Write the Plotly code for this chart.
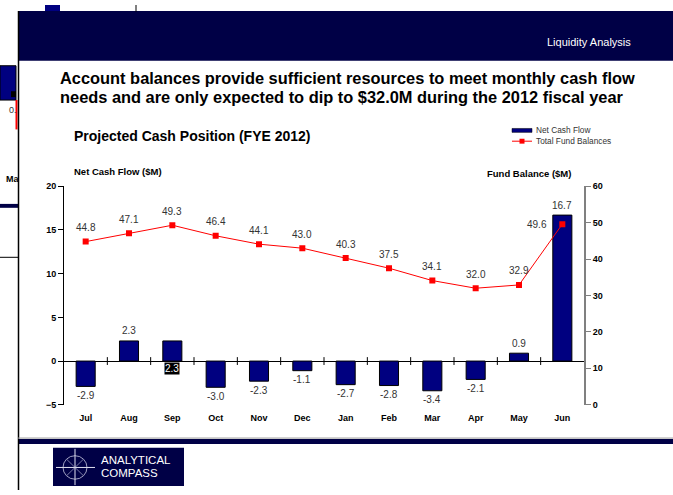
import plotly.graph_objects as go

# ---------------- data ----------------
months = ["Jul", "Aug", "Sep", "Oct", "Nov", "Dec", "Jan", "Feb", "Mar", "Apr", "May", "Jun"]
net_cash_flow = [-2.9, 2.3, 2.3, -3.0, -2.3, -1.1, -2.7, -2.8, -3.4, -2.1, 0.9, 16.7]
fund_balances = [44.8, 47.1, 49.3, 46.4, 44.1, 43.0, 40.3, 37.5, 34.1, 32.0, 32.9, 49.6]
left_ticks = [-5, 0, 5, 10, 15, 20]
right_ticks = [0, 10, 20, 30, 40, 50, 60]

W, H = 673, 495
FONT = "Liberation Sans, Arial, sans-serif"
NAVY_DARK = "#000046"
NAVY_BAR = "#000080"
LABEL_GREY = "#333333"


def px(x):
    return x / W


def py(y):
    return 1 - y / H


# plot area in page pixels
PX0, PX1 = 64, 584
PY_TOP, PY_BOT = 185, 408

fig = go.Figure()

fig.add_trace(go.Bar(
    x=months, y=net_cash_flow, name="Net Cash Flow",
    marker=dict(color=NAVY_BAR, line=dict(color="#000000", width=1)),
    width=0.44, yaxis="y", showlegend=False,
))
fig.add_trace(go.Scatter(
    x=months, y=fund_balances, name="Total Fund Balances", mode="lines+markers",
    line=dict(color="#FF0000", width=1),
    marker=dict(color="#FF0000", symbol="square", size=6),
    yaxis="y2", showlegend=False,
))

annotations = []
shapes = []


def text(x, y, s, size=9, color="#000000", bold=False, xanchor="left", yanchor="middle", **kw):
    if bold:
        s = "<b>" + s + "</b>"
    annotations.append(dict(
        x=px(x), y=py(y), xref="paper", yref="paper", text=s, showarrow=False,
        xanchor=xanchor, yanchor=yanchor,
        font=dict(family=FONT, size=size, color=color), **kw))


def rect(x0, y0, x1, y1, fill, line=None, lw=0):
    shapes.append(dict(type="rect", xref="paper", yref="paper",
                       x0=px(x0), x1=px(x1), y0=py(y1), y1=py(y0),
                       fillcolor=fill, line=dict(color=line or fill, width=lw), layer="below"))


def line(x0, y0, x1, y1, color="#000000", width=1, layer="above"):
    shapes.append(dict(type="line", xref="paper", yref="paper",
                       x0=px(x0), x1=px(x1), y0=py(y0), y1=py(y1),
                       line=dict(color=color, width=width), layer=layer))


# ---------- fragments of the slide behind ----------
rect(45, 0, 60, 7, NAVY_BAR)
line(136, 0, 136, 7)
rect(0, 62, 16, 97, NAVY_BAR, "#000000", 1)
rect(11, 88, 16, 94, "#000000")
line(16.5, 97, 16.5, 127, "#FF0000", 2)
text(7, 107, "0.", size=9, color=LABEL_GREY)
text(4, 178, "Ma", size=9, bold=True)
rect(0, 203, 18, 207, NAVY_DARK)
line(0, 257.5, 18, 257.5, "#000000", 1)

# ---------- main slide ----------
rect(18, 6, W, H, "#FFFFFF")
line(18.5, 6, 18.5, H, "#000000", 1.5)
rect(18, 6, W, 57, NAVY_DARK)
text(633, 38, "Liquidity Analysis", size=11, color="#FFFFFF", xanchor="right")

text(58, 75, "Account balances provide sufficient resources to meet monthly cash flow", size=16.4, bold=True)
text(58, 94, "needs and are only expected to dip to $32.0M during the 2012 fiscal year", size=16.4, bold=True)
text(72, 134, "Projected Cash Position (FYE 2012)", size=14, bold=True)

# custom legend
rect(512, 126, 532, 130, NAVY_BAR, "#000000", 0.5)
text(534, 128, "Net Cash Flow", size=8.3, color=LABEL_GREY)
line(512, 139, 532, 139, "#FF0000", 1)
rect(519.5, 136.5, 524.5, 141.5, "#FF0000")
text(534, 139, "Total Fund Balances", size=8.3, color=LABEL_GREY)

# axis titles
text(72, 170, "Net Cash Flow ($M)", size=9.5, bold=True)
text(573, 172, "Fund Balance ($M)", size=9.5, bold=True, xanchor="right")

# footer
line(18, 442, W, 442, "#999999", 1)
rect(18, 443, W, 448, NAVY_DARK)
rect(53, 452, 184, 491, NAVY_DARK)
shapes.append(dict(type="circle", xref="paper", yref="paper",
                   x0=px(63), x1=px(87), y0=py(484), y1=py(460),
                   line=dict(color="#C8C8E0", width=0.8)))
line(75, 453, 75, 490, "#E0E0F0", 1)
line(56, 472, 95, 472, "#E0E0F0", 1)
line(67, 464, 83, 480, "#C8C8E0", 0.6)
line(67, 480, 83, 464, "#C8C8E0", 0.6)
text(99, 464.5, "ANALYTICAL", size=11.5, color="#FFFFFF")
text(99, 477.5, "COMPASS", size=11.5, color="#FFFFFF")

# category ticks on the zero line
for i in range(len(months) - 1):
    shapes.append(dict(type="line", xref="x", yref="y", x0=i + 0.5, x1=i + 0.5,
                       y0=-0.45, y1=0.45, line=dict(color="#000000", width=1)))

# data labels: bars
for i, (m, v) in enumerate(zip(months, net_cash_flow)):
    lab = f"{v:.1f}"
    if m == "Sep":
        annotations.append(dict(x=m, y=0, xref="x", yref="y", text=lab, showarrow=False,
                                yanchor="top", yshift=-1, bgcolor="#000000", borderpad=0,
                                font=dict(family=FONT, size=10, color="#FFFFFF")))
        continue
    annotations.append(dict(x=m, y=v, xref="x", yref="y", text=lab, showarrow=False,
                            yanchor="middle", yshift=10 if v > 0 else -9,
                            font=dict(family=FONT, size=10, color=LABEL_GREY)))

# data labels: line
for i, (m, v) in enumerate(zip(months, fund_balances)):
    last = i == len(months) - 1
    annotations.append(dict(x=m, y=v, xref="x", yref="y2", text=f"{v:.1f}", showarrow=False,
                            yanchor="middle", yshift=0 if last else 14, xshift=-25 if last else 0,
                            font=dict(family=FONT, size=10, color=LABEL_GREY)))

fig.update_layout(
    width=W, height=H, margin=dict(l=0, r=0, t=0, b=0),
    paper_bgcolor="#FFFFFF", plot_bgcolor="rgba(0,0,0,0)",
    font=dict(family=FONT, size=9, color="#000000"),
    xaxis=dict(domain=[px(PX0), px(PX1)], range=[-0.5, len(months) - 0.5],
               showline=False, showgrid=False, ticks="", zeroline=False,
               tickfont=dict(family=FONT, size=9, color="#000000", weight="bold"),
               ticklabelstandoff=6, fixedrange=True),
    yaxis=dict(domain=[py(PY_BOT), py(PY_TOP)], range=[-5, 20], tickvals=left_ticks,
               showline=True, linecolor="#000000", linewidth=1, showgrid=False,
               ticks="outside", ticklen=5, tickcolor="#000000",
               zeroline=True, zerolinecolor="#000000", zerolinewidth=1,
               tickfont=dict(family=FONT, size=9, color="#000000", weight="bold")),
    yaxis2=dict(overlaying="y", side="right", anchor="x", range=[0, 60], tickvals=right_ticks,
                showline=True, linecolor="#808080", linewidth=2, showgrid=False,
                ticks="outside", ticklen=5, tickcolor="#808080", zeroline=False,
                tickfont=dict(family=FONT, size=9, color="#000000", weight="bold")),
    shapes=shapes, annotations=annotations,
)

# the page's default 8px body margin would push the 673x495 figure off its window
fig.write_html("out.html", config={"displayModeBar": False, "staticPlot": True},
               post_script="document.body.style.margin='0';document.body.style.overflow='hidden';")
